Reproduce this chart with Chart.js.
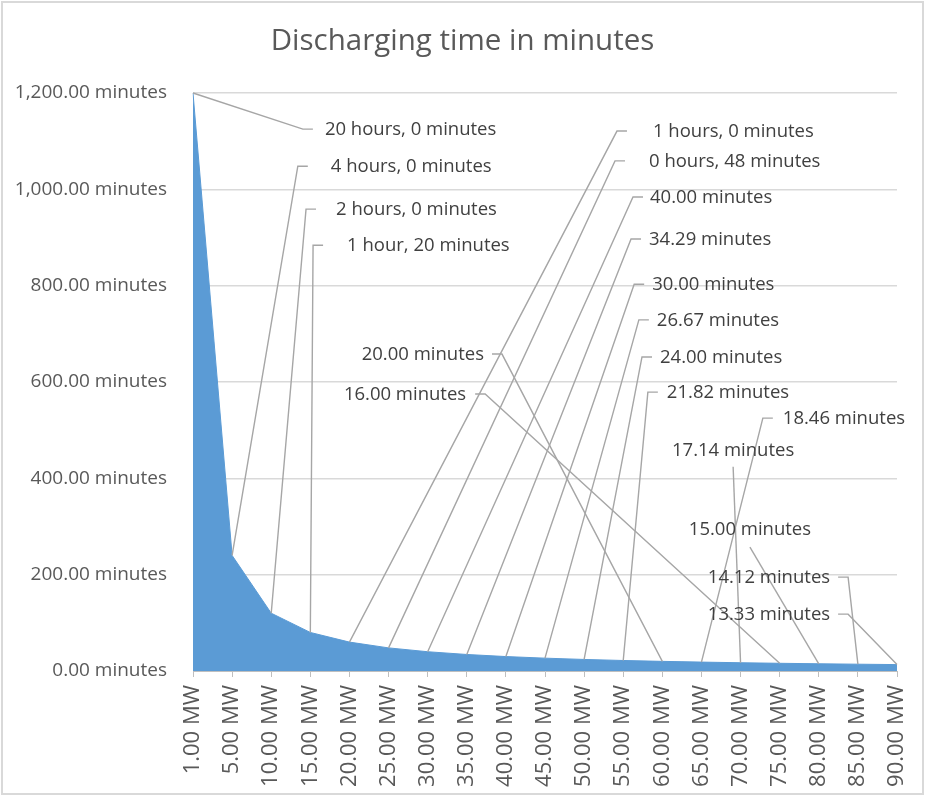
<!DOCTYPE html>
<html>
<head>
<meta charset="utf-8">
<title>Discharging time in minutes</title>
<script src="https://cdn.jsdelivr.net/npm/chart.js@4.4.1/dist/chart.umd.min.js"></script>
<style>
  html, body { margin: 0; padding: 0; background: #fff; }
  canvas { display: block; }
</style>
</head>
<body>
<canvas id="dischargeChart" width="925" height="796"></canvas>
<script>
// Chart data
const categories = ['1.00 MW', '5.00 MW', '10.00 MW', '15.00 MW', '20.00 MW', '25.00 MW', '30.00 MW',
  '35.00 MW', '40.00 MW', '45.00 MW', '50.00 MW', '55.00 MW', '60.00 MW', '65.00 MW', '70.00 MW',
  '75.00 MW', '80.00 MW', '85.00 MW', '90.00 MW'];
const minutes = [1200, 240, 120, 80, 60, 48, 40, 34.29, 30, 26.67, 24, 21.82, 20, 18.46, 17.14, 16, 15, 14.12, 13.33];
const labelTexts = ['20 hours, 0 minutes', '4 hours, 0 minutes', '2 hours, 0 minutes', '1 hour, 20 minutes',
  '1 hours, 0 minutes', '0 hours, 48 minutes', '40.00 minutes', '34.29 minutes', '30.00 minutes',
  '26.67 minutes', '24.00 minutes', '21.82 minutes', '20.00 minutes', '18.46 minutes', '17.14 minutes',
  '16.00 minutes', '15.00 minutes', '14.12 minutes', '13.33 minutes'];
const yTicks = [0, 200, 400, 600, 800, 1000, 1200];

// where each data label sits: elbow of the leader line in axis units (category index, minutes)
// side L = text right of elbow, R = text left of elbow, B = text above line start
const labelLayout = [
  {side: 'L', x: 2.81, y: 1125, gap: 12},
  {side: 'L', x: 2.68, y: 1048, gap: 23},
  {side: 'L', x: 2.89, y: 959, gap: 20},
  {side: 'L', x: 3.07, y: 884, gap: 24},
  {side: 'L', x: 10.84, y: 1121, gap: 26},
  {side: 'L', x: 10.79, y: 1059, gap: 24},
  {side: 'L', x: 11.25, y: 984, gap: 7},
  {side: 'L', x: 11.20, y: 897, gap: 8},
  {side: 'L', x: 11.28, y: 803, gap: 8},
  {side: 'L', x: 11.40, y: 729, gap: 8},
  {side: 'L', x: 11.48, y: 652, gap: 8},
  {side: 'L', x: 11.63, y: 579, gap: 9},
  {side: 'R', x: 7.90, y: 658, gap: 8},
  {side: 'L', x: 14.57, y: 525, gap: 10},
  {side: 'B', x: 13.81, y: 424, gap: 16},
  {side: 'R', x: 7.47, y: 575, gap: 9},
  {side: 'B', x: 14.24, y: 257, gap: 17},
  {side: 'R', x: 16.75, y: 195, gap: 8},
  {side: 'R', x: 16.75, y: 118, gap: 8}
];

const fmtMinutes = v => v.toLocaleString('en-US', {minimumFractionDigits: 2, maximumFractionDigits: 2}) + ' minutes';

// Leader lines + data label text
const leaderLabels = {
  id: 'leaderLabels',
  afterDatasetsDraw(chart) {
    const ctx = chart.ctx;
    const pts = chart.getDatasetMeta(0).data;
    const sx = chart.scales.x, sy = chart.scales.y;
    ctx.save();
    ctx.font = '18.5px "Open Sans"';
    ctx.textBaseline = 'middle';
    labelLayout.forEach((lab, i) => {
      const px = pts[i].x, py = pts[i].y;
      const ex = sx.getPixelForValue(lab.x);
      const ey = sy.getPixelForValue(lab.y);
      ctx.strokeStyle = '#a6a6a6';
      ctx.lineWidth = 1.4;
      ctx.beginPath();
      ctx.moveTo(px, py);
      ctx.lineTo(ex, ey);
      let tx, ty = ey + 1, align;
      if (lab.side === 'L') {
        ctx.lineTo(ex + 10, ey);
        tx = ex + 10 + lab.gap; align = 'left';
      } else if (lab.side === 'R') {
        ctx.lineTo(ex - 10, ey);
        tx = ex - 10 - lab.gap; align = 'right';
      } else {
        tx = ex; ty = ey - lab.gap; align = 'center';
      }
      ctx.stroke();
      ctx.fillStyle = '#404040';
      ctx.textAlign = align;
      ctx.fillText(labelTexts[i], tx, ty);
    });
    ctx.restore();
  }
};

// light frame around the whole chart
const frame = {
  id: 'frame',
  afterDraw(chart) {
    const ctx = chart.ctx;
    ctx.save();
    ctx.strokeStyle = '#d9d9d9';
    ctx.lineWidth = 2;
    ctx.strokeRect(2, 2, chart.width - 4, chart.height - 4);
    ctx.restore();
  }
};

Chart.defaults.font.family = '"Open Sans"';
Chart.defaults.color = '#595959';

new Chart(document.getElementById('dischargeChart').getContext('2d'), {
  type: 'line',
  data: {
    labels: categories,
    datasets: [{
      label: 'Discharging time',
      data: minutes,
      fill: 'origin',
      backgroundColor: '#5b9bd5',
      borderColor: '#5b9bd5',
      borderWidth: 1,
      pointRadius: 0,
      tension: 0
    }]
  },
  options: {
    responsive: false,
    animation: false,
    layout: {padding: 0},
    plugins: {
      legend: {display: false},
      tooltip: {enabled: false},
      title: {
        display: true,
        text: 'Discharging time in minutes',
        color: '#595959',
        font: {size: 29.5, weight: 'normal'},
        padding: {top: 24, bottom: 33.6}
      }
    },
    scales: {
      x: {
        offset: false,
        grid: {drawOnChartArea: false, drawTicks: true, tickLength: 6, color: '#bfbfbf'},
        border: {color: '#bfbfbf'},
        ticks: {autoSkip: false, maxRotation: 90, minRotation: 90, padding: 8, font: {size: 22}, color: '#595959'},
        afterFit(scale) { scale.height = 125; scale.paddingRight = 28; scale.paddingLeft = 0; }
      },
      y: {
        min: 0,
        max: 1200,
        afterBuildTicks(scale) { scale.ticks = yTicks.map(v => ({value: v})); },
        grid: {color: '#d9d9d9', drawTicks: false, lineWidth: 1.5},
        border: {display: false},
        ticks: {padding: 26, font: {size: 19}, color: '#595959', callback: v => fmtMinutes(v)},
        afterFit(scale) { scale.width = 193; }
      }
    }
  },
  plugins: [leaderLabels, frame]
});
</script>
</body>
</html>
